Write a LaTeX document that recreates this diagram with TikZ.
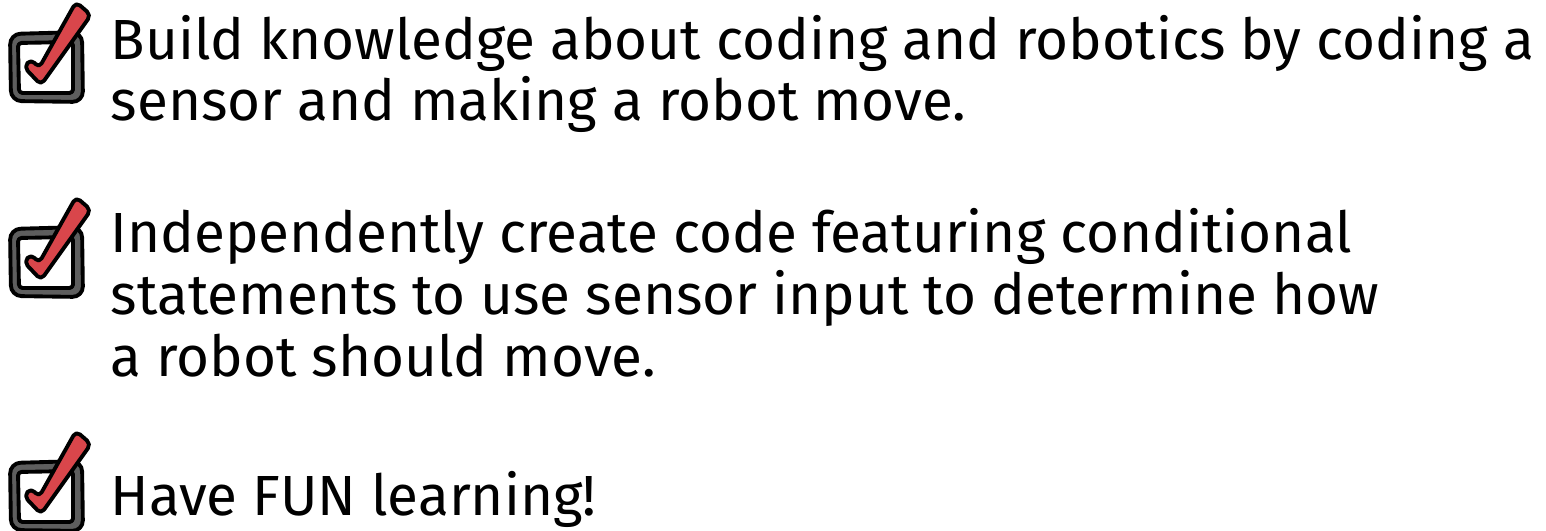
\documentclass[tikz,border=0pt]{standalone}
\usepackage{fontspec}
\setmainfont{Fira Sans}
\usepackage{tikz}

\definecolor{tickred}{HTML}{D9464B}
\definecolor{boxgray}{HTML}{5E5E5E}

\tikzset{
	itemtext/.style={anchor=base west, inner sep=0pt, font=\fontsize{16.1pt}{18pt}\selectfont},
	boxline/.style={draw=black, line width=1.1pt, line join=round}
}

\begin{document}
\begin{tikzpicture}[x=0.01cm,y=-0.01cm]
	\useasboundingbox (0,0) rectangle (1546,531);
	\foreach \o in {0,195,429}
	{
		\begin{scope}[shift={(0,\o)}]
			\filldraw[boxline, fill=boxgray, rounded corners=3pt] (10,34) -- (82,32) -- (83,102) -- (11,101) -- cycle;
			\filldraw[boxline, fill=white, rounded corners=1pt] (18,43) -- (73,42) -- (73,93) -- (19,93) -- cycle;
			\filldraw[boxline, fill=tickred, rounded corners=1.5pt] (24,67) -- (41,85) -- (91,15) -- (76,2) -- (39,68) -- (31,59) -- cycle;
		\end{scope}
	}
	\node[itemtext] (build1) at (110,60) {Build knowledge about coding and robotics by coding a};
	\node[itemtext] (build2) at (110,121) {sensor and making a robot move.};
	\node[itemtext] (indep1) at (110,253) {Independently create code featuring conditional};
	\node[itemtext] (indep2) at (110,315) {statements to use sensor input to determine how};
	\node[itemtext] (indep3) at (110,377) {a robot should move.};
	\node[itemtext] (fun) at (110,515) {Have FUN learning!};
\end{tikzpicture}
\end{document}
